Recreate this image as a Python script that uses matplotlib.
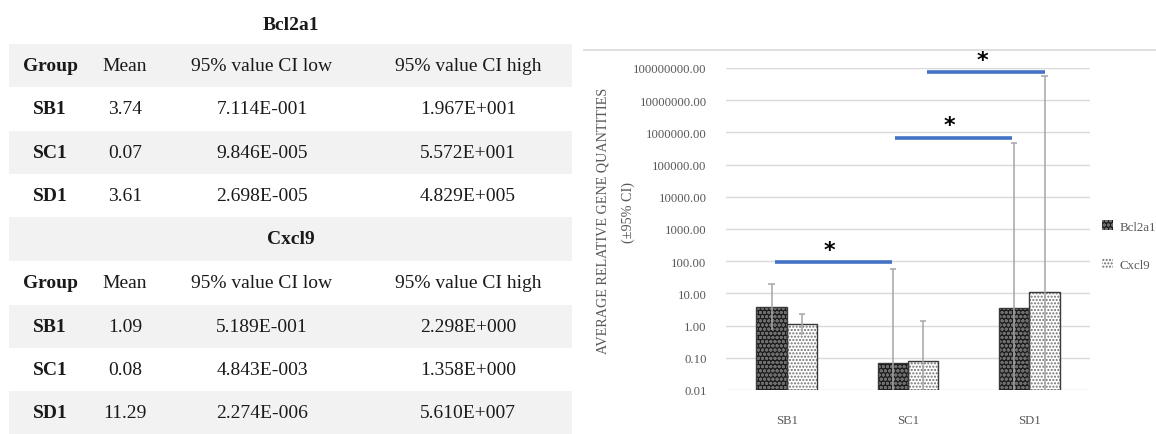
import matplotlib
matplotlib.use("Agg")
import matplotlib.pyplot as plt
from matplotlib.patches import Rectangle, Patch
import numpy as np

plt.rcParams["font.family"] = ["Liberation Serif", "DejaVu Serif"]
plt.rcParams["hatch.linewidth"] = 1.0

# ---- data ----
groups = ["SB1", "SC1", "SD1"]
genes = ["Bcl2a1", "Cxcl9"]

bcl2a1_mean = [3.74, 0.07, 3.61]
bcl2a1_ci_low = [7.114e-1, 9.846e-5, 2.698e-5]
bcl2a1_ci_high = [1.967e1, 5.572e1, 4.829e5]

cxcl9_mean = [1.09, 0.08, 11.29]
cxcl9_ci_low = [5.189e-1, 4.843e-3, 2.274e-6]
cxcl9_ci_high = [2.298e0, 1.358e0, 5.610e7]

bcl2a1_low_text = ["7.114E-001", "9.846E-005", "2.698E-005"]
bcl2a1_high_text = ["1.967E+001", "5.572E+001", "4.829E+005"]
cxcl9_low_text = ["5.189E-001", "4.843E-003", "2.274E-006"]
cxcl9_high_text = ["2.298E+000", "1.358E+000", "5.610E+007"]

table_columns = ["Group", "Mean", "95% value CI low", "95% value CI high"]

# significance brackets: (start, end) in category units, height in data units
sig_start = [-0.10, 0.89, 1.16]
sig_end = [0.87, 1.86, 2.13]
sig_height = [92.0, 6.7e5, 7.3e7]
sig_label = ["*", "*", "*"]

y_ticks = [1e-2, 1e-1, 1e0, 1e1, 1e2, 1e3, 1e4, 1e5, 1e6, 1e7, 1e8]

# ---- figure ----
W, H = 1156, 435
fig = plt.figure(figsize=(W / 100, H / 100), dpi=100)
fig.patch.set_facecolor("white")

# table drawn in pixel coordinates
tab = fig.add_axes([0, 0, 1, 1])
tab.set_xlim(0, W)
tab.set_ylim(H, 0)
tab.axis("off")

band = "#f2f2f2"
txt = "#1a1a1a"
tx0, tx1 = 9, 572
col_x = [50, 125, 262, 468]
fs = 14


def band_row(y0, y1):
    tab.add_patch(Rectangle((tx0, y0), tx1 - tx0, y1 - y0, facecolor=band,
                            edgecolor="none", zorder=0))


def table_block(title, title_y, title_band, header_band, rows_top,
                means, lows, highs, shade_first):
    if title_band is not None:
        band_row(*title_band)
    tab.text((tx0 + tx1) / 2, title_y, title, ha="center", va="center",
             fontsize=fs, fontweight="bold", color=txt)
    if header_band[2]:
        band_row(header_band[0], header_band[1])
    hy = (header_band[0] + header_band[1]) / 2
    for j, c in enumerate(table_columns):
        tab.text(col_x[j], hy, c, ha="center", va="center", fontsize=fs,
                 fontweight="bold" if j == 0 else "normal", color=txt)
    for i, g in enumerate(groups):
        y0, y1 = rows_top[i], rows_top[i + 1]
        if (i % 2 == 0) == shade_first:
            band_row(y0, y1)
        yc = (y0 + y1) / 2
        tab.text(col_x[0], yc, g, ha="center", va="center", fontsize=fs,
                 fontweight="bold", color=txt)
        tab.text(col_x[1], yc, f"{means[i]:.2f}", ha="center", va="center",
                 fontsize=fs, color=txt)
        tab.text(col_x[2], yc, lows[i], ha="center", va="center",
                 fontsize=fs, color=txt)
        tab.text(col_x[3], yc, highs[i], ha="center", va="center",
                 fontsize=fs, color=txt)


table_block("Bcl2a1", 25, None, (45, 88, True), [88, 132, 175, 218],
            bcl2a1_mean, bcl2a1_low_text, bcl2a1_high_text, False)
table_block("Cxcl9", 240, (218, 262), (262, 306, False), [306, 349, 392, 435],
            cxcl9_mean, cxcl9_low_text, cxcl9_high_text, True)

# chart frame top edge
tab.plot([584, W], [51, 51], color="#d9d9d9", lw=1.2, zorder=1)

# ---- bar chart ----
ax = fig.add_axes([726 / W, 1 - 391 / H, (1090 - 726) / W, (391 - 69) / H])
ax.set_yscale("log")
ax.set_ylim(1e-2, 1e8)
ax.set_xlim(-0.5, 2.5)
ax.set_facecolor("none")
for s in ax.spines.values():
    s.set_visible(False)
ax.set_yticks(y_ticks)
ax.set_yticklabels([f"{v:.2f}" for v in y_ticks])
ax.yaxis.set_minor_locator(matplotlib.ticker.NullLocator())
ax.tick_params(axis="both", length=0, labelsize=9.2, colors="#595959")
ax.tick_params(axis="y", pad=14)
ax.tick_params(axis="x", pad=17)
ax.set_xticks(range(len(groups)))
ax.set_xticklabels(groups)
ax.grid(axis="y", color="#d9d9d9", lw=1.0, zorder=0)
ax.set_axisbelow(True)

x = np.arange(len(groups))
bw = 0.25
series = [
    (bcl2a1_mean, bcl2a1_ci_low, bcl2a1_ci_high, -bw / 2, "#1c1c1c", "#6e6e6e", "oooo"),
    (cxcl9_mean, cxcl9_ci_low, cxcl9_ci_high, bw / 2, "#ffffff", "#6f6f6f", "....."),
]
for means, lows, highs, off, fc, hc, hatch in series:
    xs = x + off
    bottom = 1e-2
    heights = np.array(means) - bottom
    ax.bar(xs, heights, bw, bottom=bottom, color=fc, edgecolor=hc, hatch=hatch,
           linewidth=0, zorder=2)
    ax.bar(xs, heights, bw, bottom=bottom, fill=False, edgecolor="#3a3a3a",
           linewidth=1.0, zorder=3)
    lo = np.maximum(lows, bottom)
    ax.vlines(xs, lo, highs, color="#a6a6a6", lw=1.1, zorder=4)
    ax.hlines(highs, xs - 0.025, xs + 0.025, color="#a6a6a6", lw=1.1, zorder=4)

for a, b, h, lab in zip(sig_start, sig_end, sig_height, sig_label):
    ax.plot([a, b], [h, h], color="#4472c4", lw=2.6, solid_capstyle="butt",
            zorder=5, clip_on=False)
    ax.annotate(lab, ((a + b) / 2, h), xytext=(-3, 2), textcoords="offset points",
                ha="center", va="bottom", fontsize=16, fontweight="bold",
                color="black", fontfamily="DejaVu Sans", annotation_clip=False)

# axis title (two lines)
fig.text(603 / W, 1 - 221 / H, "AVERAGE RELATIVE GENE QUANTITIES", rotation=90,
         ha="center", va="center", fontsize=10.2, color="#595959")
fig.text(628 / W, 1 - 213 / H, "(±95% CI)", rotation=90,
         ha="center", va="center", fontsize=10.2, color="#595959")

# legend
handles = [Patch(facecolor=s[4], edgecolor=s[5], hatch=s[6], linewidth=0)
           for s in series]
leg = fig.legend(handles, genes, loc="upper left",
                 bbox_to_anchor=(1097 / W, 1 - 216 / H), frameon=False,
                 fontsize=9.3, labelspacing=1.95, handlelength=0.85,
                 handleheight=0.85, handletextpad=0.5, borderaxespad=0)
for t in leg.get_texts():
    t.set_color("#595959")

fig.savefig("out.png", dpi=100, facecolor="white")
